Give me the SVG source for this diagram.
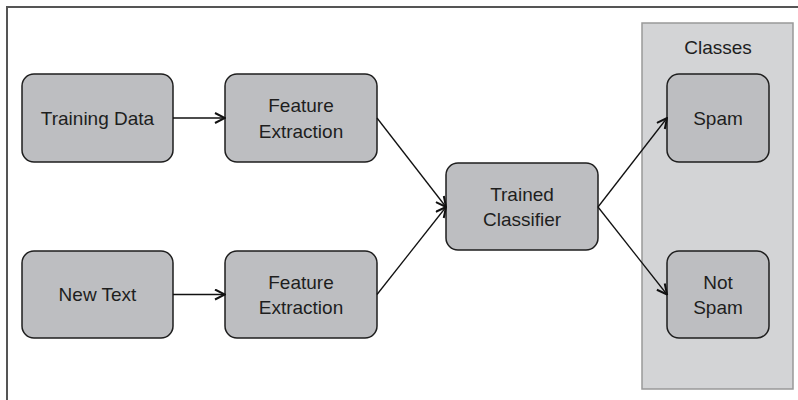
<svg xmlns="http://www.w3.org/2000/svg" width="798" height="400" viewBox="0 0 798 400">
  <defs>
    <style>
      .node rect { fill: #bdbec1; stroke: #1e1e1e; stroke-width: 1.5; }
      .node text, .lbl { font-family: "Liberation Sans", Arial, sans-serif; font-size: 19px; fill: #1e1e1e; text-anchor: middle; }
      .conn { stroke: #111; stroke-width: 1.3; fill: none; marker-end: url(#arr); }
    </style>
    <marker id="arr" viewBox="0 0 12 12" refX="11" refY="6" markerWidth="12" markerHeight="12" markerUnits="userSpaceOnUse" orient="auto">
      <path d="M1,1 L11,6 L1,11" fill="none" stroke="#111" stroke-width="2"/>
    </marker>
  </defs>
  <rect width="798" height="400" fill="#ffffff"/>
  <path d="M7,400 L7,7 L798,7" fill="none" stroke="#555555" stroke-width="2"/>

  <g id="classes">
    <rect x="642" y="23" width="151" height="366" fill="#d3d4d6" stroke="#999999" stroke-width="1.5"/>
    <text class="lbl" x="718" y="54">Classes</text>
  </g>

  <g id="training-data" class="node">
    <rect x="22" y="74" width="151" height="88" rx="12"/>
    <text x="97.5" y="124.5">Training Data</text>
  </g>
  <g id="feature-extraction-1" class="node">
    <rect x="225" y="74" width="152" height="88" rx="12"/>
    <text x="301" y="112.3">Feature</text>
    <text x="301" y="137.5">Extraction</text>
  </g>
  <g id="new-text" class="node">
    <rect x="22" y="251" width="151" height="87" rx="12"/>
    <text x="97.5" y="301">New Text</text>
  </g>
  <g id="feature-extraction-2" class="node">
    <rect x="225" y="251" width="152" height="87" rx="12"/>
    <text x="301" y="289">Feature</text>
    <text x="301" y="314">Extraction</text>
  </g>
  <g id="trained-classifier" class="node">
    <rect x="446" y="163" width="152" height="87" rx="12"/>
    <text x="522" y="200.5">Trained</text>
    <text x="522" y="225.5">Classifier</text>
  </g>
  <g id="spam" class="node">
    <rect x="667" y="74" width="102" height="88" rx="12"/>
    <text x="718" y="124.5">Spam</text>
  </g>
  <g id="not-spam" class="node">
    <rect x="667" y="251" width="102" height="87" rx="12"/>
    <text x="718" y="289">Not</text>
    <text x="718" y="314">Spam</text>
  </g>

  <g id="connectors">
    <line class="conn" x1="173" y1="118" x2="225" y2="118"/>
    <line class="conn" x1="173" y1="294.5" x2="225" y2="294.5"/>
    <line class="conn" x1="377" y1="118" x2="446" y2="207"/>
    <line class="conn" x1="377" y1="294.5" x2="446" y2="207"/>
    <line class="conn" x1="598" y1="207" x2="667" y2="118"/>
    <line class="conn" x1="598" y1="207" x2="667" y2="294.5"/>
  </g>
</svg>
